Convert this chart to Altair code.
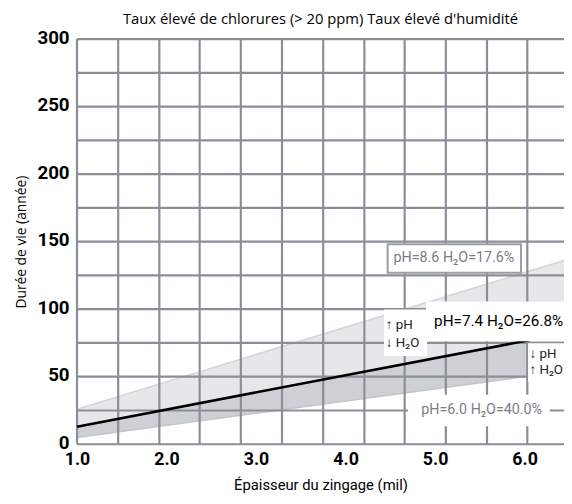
import altair as alt
import pandas as pd

# ---- data ----
thickness = [1.0, 6.44]            # épaisseur du zingage (mil), plot edges
life_ph86 = [26, 136]              # pH=8.6 H2O=17.6%  (upper bound)
life_ph74 = [13, 82]               # pH=7.4 H2O=26.8%  (typical)
life_ph60 = [5, 54]                # pH=6.0 H2O=40.0%  (lower bound)

x_ticks = [1, 2, 3, 4, 5, 6]
y_ticks = [0, 50, 100, 150, 200, 250, 300]
grid_x = [1.0, 1.46, 1.92, 2.37, 2.83, 3.29, 3.75, 4.21, 4.66, 5.12, 5.58, 6.03]
grid_y = [0, 25, 50, 75, 100, 125, 150, 175, 200, 225, 250, 275, 300]

# annotation boxes (data units): x, x2, y, y2, stroke
box_x = [4.47, 4.91, 4.44, 6.05, 4.71]
box_x2 = [5.96, 6.44, 4.90, 6.44, 6.27]
box_y = [148, 105, 99, 74, 36]
box_y2 = [127, 77, 66, 47, 14]
box_stroke = ["#9a9ea4", "white", "white", "white", "white"]

FONT = "Roboto"
GRID = "#8a8f97"

XS = alt.Scale(domain=[1.0, 6.44], nice=False, zero=False)
YS = alt.Scale(domain=[0, 300], nice=False, zero=False)

df = pd.DataFrame({"t": thickness, "hi": life_ph86, "mid": life_ph74, "lo": life_ph60})

x_axis = alt.Axis(values=x_ticks, format=".1f", labelFont=FONT, labelFontSize=18,
                  labelFontWeight="bold", labelColor="black", labelPadding=7,
                  labelFlush=False, domain=False, ticks=False, tickSize=0, grid=False,
                  title="Épaisseur du zingage (mil)", titleFont=FONT, titleFontSize=15,
                  titleFontWeight="normal", titleColor="black", titleY=41,
                  titleBaseline="middle")
y_axis = alt.Axis(values=y_ticks, labelFont=FONT, labelFontSize=19,
                  labelFontWeight="bold", labelColor="black", labelPadding=8,
                  labelOffset=-2,
                  domain=False, ticks=False, tickSize=0, grid=False,
                  title="Durée de vie (année)", titleFont="Open Sans", titleFontSize=14,
                  titleFontWeight="normal", titleColor="black", titleX=-56,
                  titleBaseline="middle")


def X(field):
    return alt.X(field, scale=XS, axis=x_axis)


def Y(field):
    return alt.Y(field, scale=YS, axis=y_axis)


base = alt.Chart(df)
light = base.mark_area(color="#e6e7e9").encode(x=X("t:Q"), y=Y("hi:Q"), y2="mid:Q")
dark = base.mark_area(color="#cdd0d4").encode(x=X("t:Q"), y=Y("mid:Q"), y2="lo:Q")
hi_line = base.mark_line(color="#d3d4d7", strokeWidth=1.5).encode(x=X("t:Q"), y=Y("hi:Q"))
lo_line = base.mark_line(color="#c2c5c9", strokeWidth=1.5).encode(x=X("t:Q"), y=Y("lo:Q"))

vgrid = alt.Chart(pd.DataFrame({"gx": grid_x})).mark_rule(
    color=GRID, strokeWidth=2.2).encode(x=X("gx:Q"))
hgrid = alt.Chart(pd.DataFrame({"gy": grid_y})).mark_rule(
    color=GRID, strokeWidth=2.2).encode(y=Y("gy:Q"))

mid_line = base.mark_line(color="black", strokeWidth=2.6).encode(x=X("t:Q"), y=Y("mid:Q"))

boxes = alt.Chart(pd.DataFrame({"x": box_x, "x2": box_x2, "y": box_y, "y2": box_y2,
                                "s": box_stroke})).mark_rect(
    fill="white", strokeWidth=2).encode(
    x=X("x:Q"), x2="x2:Q", y=Y("y:Q"), y2="y2:Q",
    stroke=alt.Stroke("s:N", scale=None))

# annotation texts
big_labels = pd.DataFrame({
    "x": [5.21, 5.71, 5.52],
    "y": [137.5, 91, 25],
    "txt": ["pH=8.6 H₂O=17.6%", "pH=7.4 H₂O=26.8%", "pH=6.0 H₂O=40.0%"],
    "c": ["#7b7e83", "black", "#7b7e83"],
    "s": [14.5, 15.5, 14.5],
})
big_text = alt.Chart(big_labels).mark_text(font=FONT, align="center",
                                           baseline="middle").encode(
    x=X("x:Q"), y=Y("y:Q"), text="txt:N", color=alt.Color("c:N", scale=None),
    size=alt.Size("s:Q", scale=None))

small_labels = pd.DataFrame({
    "x": [4.45, 4.45, 6.055, 6.055],
    "y": [88, 75, 67, 55],
    "txt": ["↑ pH", "↓ H₂O", "↓ pH", "↑ H₂O"],
})
small_text = alt.Chart(small_labels).mark_text(font=FONT, fontSize=13.5, align="left",
                                               baseline="middle", color="#222").encode(
    x=X("x:Q"), y=Y("y:Q"), text="txt:N")

chart = alt.layer(light, dark, hi_line, lo_line, vgrid, hgrid, mid_line, boxes,
                  big_text, small_text).properties(
    width=494, height=411,
    title=alt.TitleParams("Taux élevé de chlorures (> 20 ppm) Taux élevé d'humidité",
                          font="Open Sans", fontSize=15, fontWeight="normal",
                          color="black", anchor="middle", offset=5, dy=4),
    autosize=alt.AutoSizeParams(type="none"),
    padding={"left": 70, "top": 28, "right": 0, "bottom": 49},
).configure_view(stroke=None)

chart.save("out.html", embed_options={"renderer": "svg", "actions": False})
